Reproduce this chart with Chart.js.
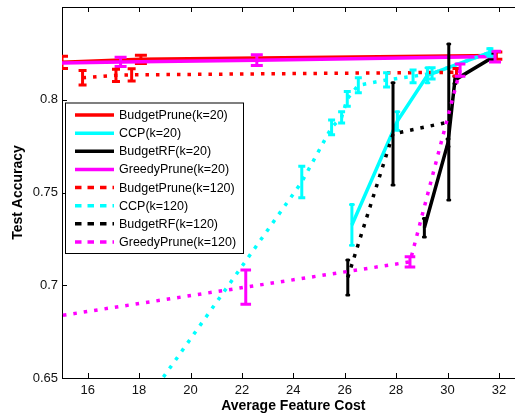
<!DOCTYPE html>
<html>
<head>
<meta charset="utf-8">
<script src="https://cdn.jsdelivr.net/npm/chart.js@4.4.1/dist/chart.umd.min.js"></script>
<style>
html, body { margin: 0; padding: 0; background: #fff; overflow: hidden; }
canvas { display: block; }
</style>
</head>
<body>
<canvas id="costChart" width="530" height="416"></canvas>
<script>
// Series names (legend order)
const seriesNames = ['BudgetPrune(k=20)', 'CCP(k=20)', 'BudgetRF(k=20)', 'GreedyPrune(k=20)',
  'BudgetPrune(k=120)', 'CCP(k=120)', 'BudgetRF(k=120)', 'GreedyPrune(k=120)'];

// Average feature cost / test accuracy / error
const bp20Cost = [15.0, 18.07, 31.9];
const bp20Acc = [0.8202, 0.8218, 0.8238];
const bp20Err = [0.0033, 0.0022, 0.002];

const ccp20Cost = [26.28, 28.05, 29.22, 31.65];
const ccp20Acc = [0.7325, 0.7885, 0.8132, 0.8255];
const ccp20Err = [0.011, 0.005, 0.004, 0.002];

const rf20Cost = [29.1, 30.02, 30.29, 31.75];
const rf20Acc = [0.731, 0.7768, 0.8107, 0.8228];
const rf20Err = [0.005, 0.002, 0.002, 0.002];

const gp20Cost = [12.5, 17.28, 22.58, 31.85];
const gp20Acc = [0.8192, 0.8204, 0.8213, 0.8233];
const gp20Err = [0.002, 0.0025, 0.0029, 0.0029];

const bp120Cost = [15.8, 17.1, 17.71, 30.35];
const bp120Acc = [0.8119, 0.8132, 0.8134, 0.8148];
const bp120Err = [0.0039, 0.0033, 0.0033, 0.002];

const ccp120Cost = [18.0, 24.33, 25.49, 25.88, 26.1, 26.53, 27.63, 28.66, 29.4, 31.65];
const ccp120Acc = [0.632, 0.7557, 0.7851, 0.7905, 0.8005, 0.8078, 0.8107, 0.8126, 0.8142, 0.8255];
const ccp120Err = [0.01, 0.0085, 0.004, 0.003, 0.004, 0.004, 0.0038, 0.0035, 0.003, 0.002];

const rf120Cost = [26.12, 27.88, 30.05];
const rf120Acc = [0.7042, 0.7816, 0.788];
const rf120Err = [0.0094, 0.0275, 0.042];

const gp120Cost = [11.0, 22.15, 28.54, 30.49];
const gp120Acc = [0.6752, 0.699, 0.7126, 0.816];
const gp120Err = [0.005, 0.0092, 0.0027, 0.0033];

// Axis ticks
const xTicks = [16, 18, 20, 22, 24, 26, 28, 30, 32];
const yTicks = [0.65, 0.7, 0.75, 0.8];

const FONT = "'Liberation Sans', Arial, Helvetica, sans-serif";

const seriesCost = [bp20Cost, ccp20Cost, rf20Cost, gp20Cost, bp120Cost, ccp120Cost, rf120Cost, gp120Cost];
const seriesAcc = [bp20Acc, ccp20Acc, rf20Acc, gp20Acc, bp120Acc, ccp120Acc, rf120Acc, gp120Acc];
const seriesErr = [bp20Err, ccp20Err, rf20Err, gp20Err, bp120Err, ccp120Err, rf120Err, gp120Err];
const seriesColor = ['#ff0000', '#00ffff', '#000000', '#ff00ff', '#ff0000', '#00ffff', '#000000', '#ff00ff'];
const capHalf = [6, 1.5, 1, 6, 4, 3.5, 1, 5.3];

const datasets = seriesNames.map((name, i) => ({
    label: name,
    data: seriesCost[i].map((c, j) => ({ x: c, y: seriesAcc[i][j] })),
    errs: seriesErr[i],
    capHalf: capHalf[i],
    dotted: i >= 4,
    borderColor: seriesColor[i],
    backgroundColor: seriesColor[i],
    borderWidth: 3.5,
    borderDash: i >= 4 ? [3.5, 7] : [],
    borderCapStyle: 'butt',
    pointRadius: 0,
    tension: 0,
    fill: false,
    clip: 0,
    order: 8 - i // later series drawn on top, like matlab
}));

// error bars, drawn right after each line
const errorBars = {
    id: 'errorBars',
    afterDatasetDraw(chart, args) {
        const ds = chart.data.datasets[args.index];
        const { ctx, chartArea: a, scales: { x, y } } = chart;
        ctx.save();
        ctx.beginPath();
        ctx.rect(a.left, a.top, a.right - a.left, a.bottom - a.top);
        ctx.clip();
        ctx.setLineDash([]);
        ctx.strokeStyle = ds.borderColor;
        ctx.lineWidth = 3;
        ctx.lineCap = ds.capHalf < 2 ? 'round' : 'butt';
        ds.data.forEach((p, i) => {
            const px = x.getPixelForValue(p.x);
            const top = y.getPixelForValue(p.y + ds.errs[i]);
            const bot = y.getPixelForValue(p.y - ds.errs[i]);
            ctx.beginPath();
            ctx.moveTo(px, top);
            ctx.lineTo(px, bot);
            ctx.moveTo(px - ds.capHalf, top);
            ctx.lineTo(px + ds.capHalf, top);
            ctx.moveTo(px - ds.capHalf, bot);
            ctx.lineTo(px + ds.capHalf, bot);
            ctx.stroke();
        });
        ctx.restore();
    }
};

// box frame + inward tick marks
const frameTicks = {
    id: 'frameTicks',
    beforeDatasetsDraw(chart) {
        const { ctx, chartArea: a, scales: { x, y } } = chart;
        ctx.save();
        ctx.strokeStyle = '#000';
        ctx.lineWidth = 1;
        ctx.beginPath();
        ctx.moveTo(a.left, a.top + 0.5);
        ctx.lineTo(a.right, a.top + 0.5);
        ctx.lineTo(a.right - 0.5, a.bottom);
        xTicks.forEach(v => {
            const px = Math.round(x.getPixelForValue(v)) + 0.5;
            ctx.moveTo(px, a.bottom);
            ctx.lineTo(px, a.bottom - 5);
            ctx.moveTo(px, a.top);
            ctx.lineTo(px, a.top + 5);
        });
        yTicks.forEach(v => {
            const py = Math.round(y.getPixelForValue(v)) + 0.5;
            ctx.moveTo(a.left, py);
            ctx.lineTo(a.left + 5, py);
            ctx.moveTo(a.right, py);
            ctx.lineTo(a.right - 5, py);
        });
        ctx.stroke();
        ctx.restore();
    }
};

// legend box inside the plot, top-left
const boxLegend = {
    id: 'boxLegend',
    afterDraw(chart) {
        const { ctx } = chart;
        const bx = 65, by = 102.5, bw = 178, bh = 150.5;
        ctx.save();
        ctx.fillStyle = '#fff';
        ctx.fillRect(bx, by, bw, bh);
        ctx.strokeStyle = '#000';
        ctx.lineWidth = 1;
        ctx.strokeRect(bx + 0.5, by + 0.5, bw, bh);
        ctx.font = '12.5px ' + FONT;
        ctx.textBaseline = 'middle';
        chart.data.datasets.forEach((ds, i) => {
            const ly = 115 + i * 18.14;
            ctx.strokeStyle = ds.borderColor;
            ctx.lineWidth = 3.5;
            ctx.lineCap = 'butt';
            ctx.setLineDash(ds.dotted ? [6.5, 6] : []);
            ctx.beginPath();
            ctx.moveTo(75, ly);
            ctx.lineTo(114, ly);
            ctx.stroke();
            ctx.fillStyle = '#000';
            ctx.fillText(ds.label, 119, ly + 0.5);
        });
        ctx.restore();
    }
};

new Chart(document.getElementById('costChart'), {
    type: 'line',
    data: { datasets },
    plugins: [errorBars, frameTicks, boxLegend],
    options: {
        responsive: false,
        animation: false,
        layout: { padding: { left: 0, top: 7, right: 5.4, bottom: 0 } },
        plugins: { legend: { display: false }, tooltip: { enabled: false } },
        scales: {
            x: {
                type: 'linear',
                min: 15,
                max: 33,
                afterBuildTicks: s => { s.ticks = xTicks.map(v => ({ value: v })); },
                afterFit: s => { s.height = 38; s.paddingLeft = 0; s.paddingRight = 0; },
                grid: { display: false, drawTicks: false },
                border: { display: true, color: '#000', width: 1 },
                ticks: { color: '#111', padding: 5, font: { family: FONT, size: 13 } },
                title: {
                    display: true,
                    text: 'Average Feature Cost',
                    color: '#000',
                    padding: { top: 0, bottom: 1 },
                    font: { family: FONT, size: 14, weight: 'bold' }
                }
            },
            y: {
                type: 'linear',
                min: 0.65,
                max: 0.85,
                afterBuildTicks: s => { s.ticks = yTicks.map(v => ({ value: v })); },
                afterFit: s => { s.width = 62; s.paddingTop = 0; s.paddingBottom = 0; },
                grid: { display: false, drawTicks: false },
                border: { display: true, color: '#000', width: 1 },
                ticks: {
                    color: '#111',
                    padding: 4,
                    font: { family: FONT, size: 13 },
                    callback: v => String(+v.toFixed(2))
                },
                title: {
                    display: true,
                    text: 'Test Accuracy',
                    color: '#000',
                    padding: { top: 10, bottom: 0 },
                    font: { family: FONT, size: 14, weight: 'bold' }
                }
            }
        }
    }
});
</script>
</body>
</html>
